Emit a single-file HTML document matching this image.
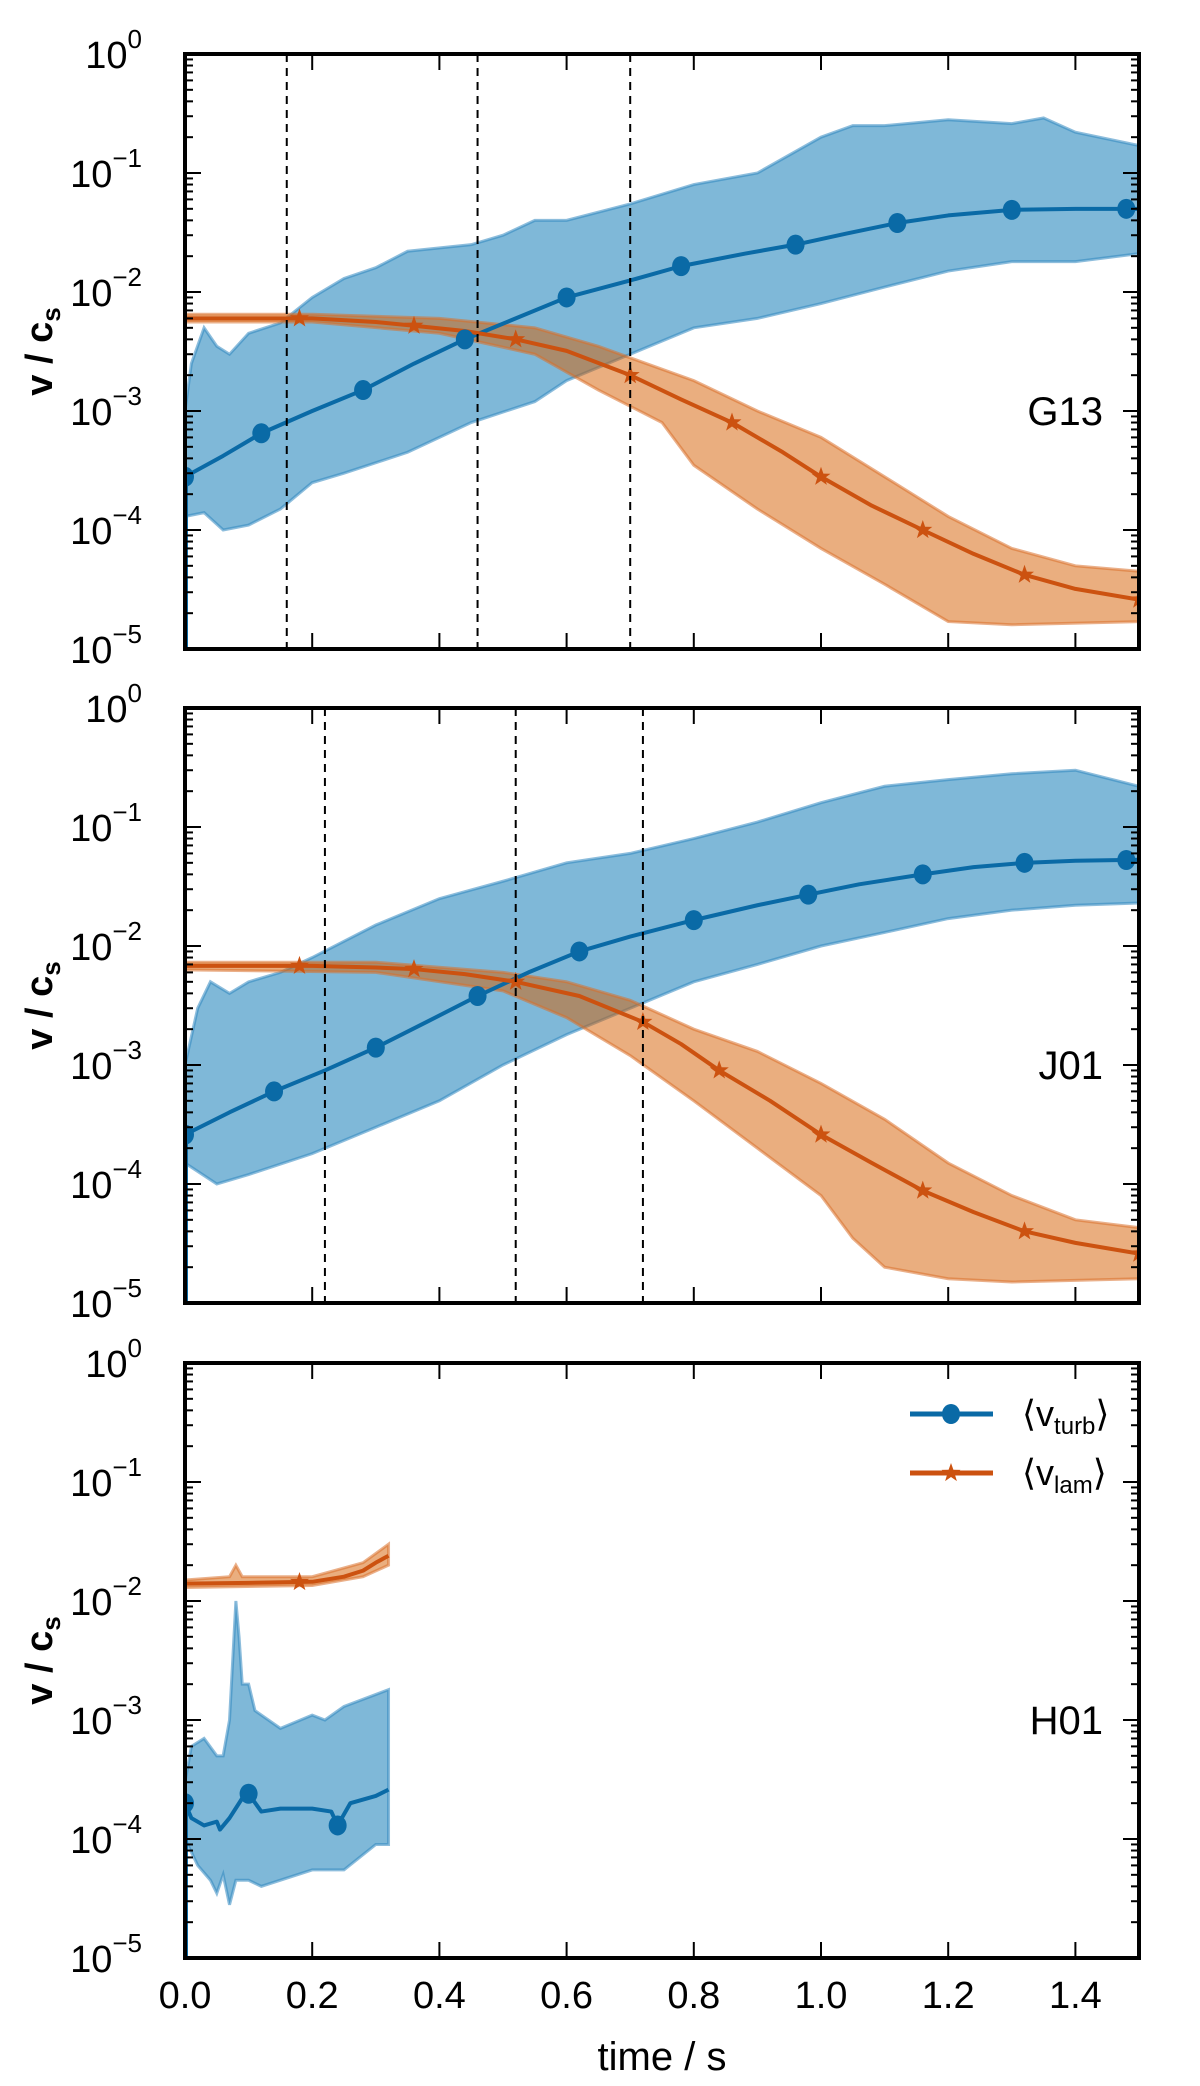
<!DOCTYPE html>
<html><head><meta charset="utf-8"><style>
html,body{margin:0;padding:0;background:#fff;}
svg{display:block;font-family:"Liberation Sans",sans-serif;}
</style></head><body>
<svg id="chart" width="1200" height="2086" viewBox="0 0 1200 2086" xmlns="http://www.w3.org/2000/svg"></svg>
<script>
// ---------- data ----------
const panelNames = ["G13","J01","H01"];
const xTicks = [0,0.2,0.4,0.6,0.8,1.0,1.2,1.4];
const xTickLabels = ["0.0","0.2","0.4","0.6","0.8","1.0","1.2","1.4"];
const yExps = [0,-1,-2,-3,-4,-5];
const dashesG13 = [0.16,0.46,0.70];
const dashesJ01 = [0.22,0.52,0.72];

// G13
const g13TurbT = [0,0.06,0.12,0.2,0.28,0.36,0.44,0.52,0.6,0.7,0.78,0.88,0.96,1.04,1.12,1.2,1.3,1.4,1.5];
const g13TurbV = [2.8e-4,4.2e-4,6.5e-4,1e-3,1.5e-3,2.5e-3,4e-3,6e-3,9e-3,1.25e-2,1.65e-2,2.1e-2,2.5e-2,3.1e-2,3.8e-2,4.4e-2,4.9e-2,5e-2,5e-2];
const g13TurbMk = [0,0.12,0.28,0.44,0.6,0.78,0.96,1.12,1.3,1.48];
const g13TurbUpT = [0,0.01,0.03,0.05,0.07,0.1,0.15,0.2,0.25,0.3,0.35,0.45,0.5,0.55,0.6,0.7,0.8,0.9,1.0,1.05,1.1,1.2,1.3,1.35,1.4,1.5];
const g13TurbUp = [1e-3,2.5e-3,5e-3,3.5e-3,3e-3,4.5e-3,5.5e-3,9e-3,1.3e-2,1.6e-2,2.2e-2,2.5e-2,3e-2,4e-2,4e-2,5.5e-2,8e-2,1e-1,2e-1,2.5e-1,2.5e-1,2.8e-1,2.6e-1,2.9e-1,2.2e-1,1.7e-1];
const g13TurbLoT = [0,0.03,0.06,0.1,0.15,0.2,0.25,0.35,0.45,0.55,0.6,0.7,0.8,0.9,1.0,1.1,1.2,1.3,1.4,1.5];
const g13TurbLo = [1.3e-4,1.4e-4,1e-4,1.1e-4,1.5e-4,2.5e-4,3e-4,4.5e-4,8e-4,1.2e-3,1.8e-3,3e-3,5e-3,6e-3,8e-3,1.1e-2,1.5e-2,1.8e-2,1.8e-2,2.1e-2];
const g13LamT = [0,0.1,0.2,0.3,0.36,0.44,0.52,0.6,0.7,0.78,0.86,0.94,1.0,1.08,1.16,1.24,1.32,1.4,1.5];
const g13LamV = [6e-3,6e-3,6e-3,5.6e-3,5.2e-3,4.7e-3,4e-3,3.2e-3,2e-3,1.25e-3,8e-4,4.5e-4,2.8e-4,1.6e-4,1e-4,6.3e-5,4.2e-5,3.2e-5,2.6e-5];
const g13LamMk = [0.18,0.36,0.52,0.7,0.86,1.0,1.16,1.32,1.5];
const g13LamUpT = [0,0.2,0.4,0.55,0.65,0.7,0.8,0.9,1.0,1.1,1.2,1.3,1.4,1.5];
const g13LamUp = [6.5e-3,6.5e-3,6e-3,5e-3,3.5e-3,2.8e-3,1.8e-3,1e-3,6e-4,2.8e-4,1.3e-4,7e-5,5e-5,4.5e-5];
const g13LamLoT = [0,0.2,0.4,0.55,0.65,0.75,0.8,0.9,1.0,1.1,1.2,1.3,1.5];
const g13LamLo = [5.6e-3,5.6e-3,4.5e-3,3e-3,1.5e-3,8e-4,3.5e-4,1.5e-4,7e-5,3.5e-5,1.7e-5,1.6e-5,1.7e-5];

// J01
const j01TurbT = [0,0.07,0.14,0.22,0.3,0.38,0.46,0.54,0.62,0.7,0.8,0.9,0.98,1.06,1.16,1.24,1.32,1.4,1.5];
const j01TurbV = [2.6e-4,4e-4,6e-4,9e-4,1.4e-3,2.3e-3,3.8e-3,6e-3,9e-3,1.2e-2,1.65e-2,2.2e-2,2.7e-2,3.3e-2,4e-2,4.6e-2,5e-2,5.2e-2,5.3e-2];
const j01TurbMk = [0,0.14,0.3,0.46,0.62,0.8,0.98,1.16,1.32,1.48];
const j01TurbUpT = [0,0.02,0.04,0.07,0.1,0.15,0.2,0.3,0.4,0.5,0.6,0.7,0.8,0.9,1.0,1.1,1.2,1.3,1.4,1.5];
const j01TurbUp = [1e-3,3e-3,5e-3,4e-3,5e-3,6e-3,8e-3,1.5e-2,2.5e-2,3.5e-2,5e-2,6e-2,8e-2,1.1e-1,1.6e-1,2.2e-1,2.5e-1,2.8e-1,3e-1,2.2e-1];
const j01TurbLoT = [0,0.05,0.1,0.2,0.3,0.4,0.5,0.6,0.7,0.8,0.9,1.0,1.1,1.2,1.3,1.4,1.5];
const j01TurbLo = [1.5e-4,1e-4,1.2e-4,1.8e-4,3e-4,5e-4,1e-3,1.8e-3,3e-3,5e-3,7e-3,1e-2,1.3e-2,1.7e-2,2e-2,2.2e-2,2.3e-2];
const j01LamT = [0,0.1,0.2,0.3,0.36,0.44,0.52,0.62,0.72,0.78,0.84,0.92,1.0,1.08,1.16,1.24,1.32,1.4,1.5];
const j01LamV = [6.8e-3,6.8e-3,6.8e-3,6.6e-3,6.4e-3,5.8e-3,5e-3,3.8e-3,2.3e-3,1.5e-3,9e-4,5e-4,2.6e-4,1.5e-4,8.8e-5,5.8e-5,4e-5,3.2e-5,2.6e-5];
const j01LamMk = [0.18,0.36,0.52,0.72,0.84,1.0,1.16,1.32,1.5];
const j01LamUpT = [0,0.3,0.5,0.6,0.7,0.8,0.9,1.0,1.1,1.2,1.3,1.4,1.5];
const j01LamUp = [7.3e-3,7.3e-3,6e-3,5e-3,3.5e-3,2e-3,1.3e-3,7e-4,3.5e-4,1.5e-4,8e-5,5e-5,4.3e-5];
const j01LamLoT = [0,0.3,0.5,0.6,0.7,0.8,0.9,1.0,1.05,1.1,1.2,1.3,1.5];
const j01LamLo = [6.3e-3,6e-3,4.2e-3,2.5e-3,1.2e-3,5e-4,2e-4,8e-5,3.5e-5,2e-5,1.6e-5,1.5e-5,1.6e-5];

// H01
const h01TurbT = [0,0.01,0.03,0.05,0.055,0.07,0.09,0.1,0.12,0.15,0.2,0.23,0.24,0.26,0.3,0.32];
const h01TurbV = [2e-4,1.5e-4,1.3e-4,1.4e-4,1.2e-4,1.5e-4,2.2e-4,2.4e-4,1.7e-4,1.8e-4,1.8e-4,1.7e-4,1.3e-4,2e-4,2.3e-4,2.6e-4];
const h01TurbMk = [0,0.1,0.24];
const h01TurbUpT = [0,0.01,0.03,0.05,0.06,0.07,0.08,0.085,0.09,0.1,0.11,0.15,0.2,0.22,0.25,0.32];
const h01TurbUp = [3e-4,6e-4,7e-4,5e-4,5e-4,1e-3,1e-2,5e-3,2e-3,2e-3,1.2e-3,8.5e-4,1.1e-3,1e-3,1.3e-3,1.8e-3];
const h01TurbLoT = [0,0.02,0.04,0.05,0.06,0.07,0.08,0.1,0.12,0.2,0.25,0.3,0.32];
const h01TurbLo = [1e-4,6e-5,4.5e-5,3.5e-5,5e-5,2.8e-5,4.5e-5,4.5e-5,4e-5,5.5e-5,5.5e-5,9e-5,9e-5];
const h01LamT = [0,0.1,0.2,0.25,0.28,0.3,0.32];
const h01LamV = [1.4e-2,1.42e-2,1.45e-2,1.6e-2,1.8e-2,2.1e-2,2.4e-2];
const h01LamMk = [0.18];
const h01LamUpT = [0,0.07,0.08,0.09,0.2,0.28,0.32];
const h01LamUp = [1.5e-2,1.6e-2,2e-2,1.6e-2,1.6e-2,2.1e-2,3e-2];
const h01LamLoT = [0,0.2,0.28,0.32];
const h01LamLo = [1.3e-2,1.35e-2,1.6e-2,2e-2];

// ---------- rendering ----------
const NS="http://www.w3.org/2000/svg";
const svg=document.getElementById('chart');
const X0=185, X1=1139, XMAX=1.5;
const panelTops=[54,708,1363], PH=595;
const BLUE="#0a6aa6", ORANGE="#cc5210";
function xs(t){return X0+(X1-X0)*t/XMAX;}
function mk(tag,attrs,parent){const e=document.createElementNS(NS,tag);for(const k in attrs)e.setAttribute(k,attrs[k]);(parent||svg).appendChild(e);return e;}
function interp(T,V,t){for(let i=0;i<T.length-1;i++){if(t>=T[i]&&t<=T[i+1]){const f=(t-T[i])/(T[i+1]-T[i]||1);return Math.exp(Math.log(V[i])*(1-f)+Math.log(V[i+1])*f);}}return V[V.length-1];}

function drawPanel(p,d){
  const top=panelTops[p], bot=top+PH;
  const ys=v=>top+(-Math.log10(v))*PH/5;
  const g=mk('g',{});
  
  
  const clipId='clip'+p;
  const cp=mk('clipPath',{id:clipId},g); mk('rect',{x:X0,y:top,width:X1-X0,height:PH},cp);
  const plot=mk('g',{'clip-path':'url(#'+clipId+')'},g);
  function band(Tu,U,Tl,L,fill,stroke,name){
    let s='M'+Tu.map((t,i)=>xs(t)+','+ys(U[i])).join(' L');
    for(let i=Tl.length-1;i>=0;i--) s+=' L'+xs(Tl[i])+','+ys(L[i]);
    s+='Z';
    const e=mk('path',{d:s,fill:fill,'fill-opacity':0.5,stroke:stroke,'stroke-width':3,'stroke-opacity':0.55},plot);
    
    
  }
  function line(T,V,color,name){
    const e=mk('path',{d:'M'+T.map((t,i)=>xs(t)+','+ys(V[i])).join(' L'),fill:'none',stroke:color,'stroke-width':4,'stroke-linejoin':'round'},plot);
    
    
  }
  function dots(T,V,Mk,name){
    Mk.forEach(t=>{const e=mk('ellipse',{cx:xs(t),cy:ys(interp(T,V,t)),rx:9,ry:10,fill:BLUE},plot);
      
      });
  }
  function stars(T,V,Mk,name){
    Mk.forEach(t=>{const cx=xs(t),cy=ys(interp(T,V,t));let s='';
      for(let k=0;k<10;k++){const r=k%2?4:10,a=-Math.PI/2+k*Math.PI/5;s+=(k?'L':'M')+(cx+r*Math.cos(a)).toFixed(1)+','+(cy+r*Math.sin(a)).toFixed(1);}
      const e=mk('path',{d:s+'Z',fill:ORANGE},plot);
      
      });
  }
  band(d.tuT,d.tu,d.tlT,d.tl,"#0072b2","#2f86c0","turb-band");
  band(d.luT,d.lu,d.llT,d.ll,"#d55e00","#d9702a","lam-band");
  line(d.tT,d.tV,BLUE,"turb-mean-line");
  line(d.lT,d.lV,ORANGE,"lam-mean-line");
  dots(d.tT,d.tV,d.tMk,"turb-marker");
  stars(d.lT,d.lV,d.lMk,"lam-marker");
  // blue line at x=0 down to bottom
  mk('line',{x1:X0+1,y1:ys(d.tV[0]),x2:X0+1,y2:bot,stroke:BLUE,'stroke-width':4},plot);
  (d.dash||[]).forEach(t=>{const e=mk('line',{x1:xs(t),y1:top,x2:xs(t),y2:bot,stroke:'#000','stroke-width':2,'stroke-dasharray':'8,6'},g);
    
    });
  // ticks
  xTicks.forEach(t=>{const x=xs(t);
    mk('line',{x1:x,y1:bot,x2:x,y2:bot-16,stroke:'#000','stroke-width':2},g);
    mk('line',{x1:x,y1:top,x2:x,y2:top+16,stroke:'#000','stroke-width':2},g);});
  yExps.forEach(ex=>{const y=ys(Math.pow(10,ex));
    mk('line',{x1:X0,y1:y,x2:X0+16,y2:y,stroke:'#000','stroke-width':2},g);
    mk('line',{x1:X1,y1:y,x2:X1-16,y2:y,stroke:'#000','stroke-width':2},g);
    const tx=mk('text',{x:142,y:y+14,'font-size':38,'text-anchor':'end'},g);
    tx.textContent='10';
    
    
    const sp=mk('tspan',{dy:-20,'font-size':26},tx); sp.textContent=(ex<0?'\u2212':'')+Math.abs(ex);
    if(ex>-5) for(let m=2;m<10;m++){const ym=ys(m*Math.pow(10,ex-1));
      mk('line',{x1:X0,y1:ym,x2:X0+8,y2:ym,stroke:'#000','stroke-width':2},g);
      mk('line',{x1:X1,y1:ym,x2:X1-8,y2:ym,stroke:'#000','stroke-width':2},g);}
  });
  const fr=mk('rect',{x:X0,y:top,width:X1-X0,height:PH,fill:'none',stroke:'#000','stroke-width':4},g);
  
  
  const yl=mk('text',{transform:'translate(52,'+(top+PH/2)+') rotate(-90)','font-size':38,'text-anchor':'middle','font-weight':'bold'},g);
  
  
  yl.textContent='v / c'; const s2=mk('tspan',{dy:8,'font-size':26},yl); s2.textContent='s';
  const pl=mk('text',{x:1103,y:ys(1e-3)+14,'font-size':40,'text-anchor':'end'},g);
  
  
  pl.textContent=panelNames[p];
}
drawPanel(0,{tT:g13TurbT,tV:g13TurbV,tMk:g13TurbMk,tuT:g13TurbUpT,tu:g13TurbUp,tlT:g13TurbLoT,tl:g13TurbLo,lT:g13LamT,lV:g13LamV,lMk:g13LamMk,luT:g13LamUpT,lu:g13LamUp,llT:g13LamLoT,ll:g13LamLo,dash:dashesG13});
drawPanel(1,{tT:j01TurbT,tV:j01TurbV,tMk:j01TurbMk,tuT:j01TurbUpT,tu:j01TurbUp,tlT:j01TurbLoT,tl:j01TurbLo,lT:j01LamT,lV:j01LamV,lMk:j01LamMk,luT:j01LamUpT,lu:j01LamUp,llT:j01LamLoT,ll:j01LamLo,dash:dashesJ01});
drawPanel(2,{tT:h01TurbT,tV:h01TurbV,tMk:h01TurbMk,tuT:h01TurbUpT,tu:h01TurbUp,tlT:h01TurbLoT,tl:h01TurbLo,lT:h01LamT,lV:h01LamV,lMk:h01LamMk,luT:h01LamUpT,lu:h01LamUp,llT:h01LamLoT,ll:h01LamLo});

// x tick labels
xTicks.forEach((t,i)=>{const e=mk('text',{x:xs(t),y:2008,'font-size':38,'text-anchor':'middle'});
  
  
  e.textContent=xTickLabels[i];});
const xl=mk('text',{x:662,y:2070,'font-size':40,'text-anchor':'middle'});


xl.textContent='time / s';

// legend
const lg=mk('g',{});


[[BLUE,'turb',1414],[ORANGE,'lam',1473]].forEach(([c,lab,y])=>{
  mk('line',{x1:910,y1:y,x2:993,y2:y,stroke:c,'stroke-width':5},lg);
  if(lab==='turb') mk('ellipse',{cx:951,cy:y,rx:9,ry:10,fill:c},lg);
  else{let s='';for(let k=0;k<10;k++){const r=k%2?4:10,a=-Math.PI/2+k*Math.PI/5;s+=(k?'L':'M')+(951+r*Math.cos(a)).toFixed(1)+','+(y+r*Math.sin(a)).toFixed(1);}mk('path',{d:s+'Z',fill:c},lg);}
  const t=mk('text',{x:1022,y:y+12,'font-size':36},lg);
  
  
  t.textContent='\u27E8v'; const sb=mk('tspan',{dy:8,'font-size':24},t); sb.textContent=lab;
  const cl=mk('tspan',{dy:-8,'font-size':36},t); cl.textContent='\u27E9';
});
</script>
</body></html>
